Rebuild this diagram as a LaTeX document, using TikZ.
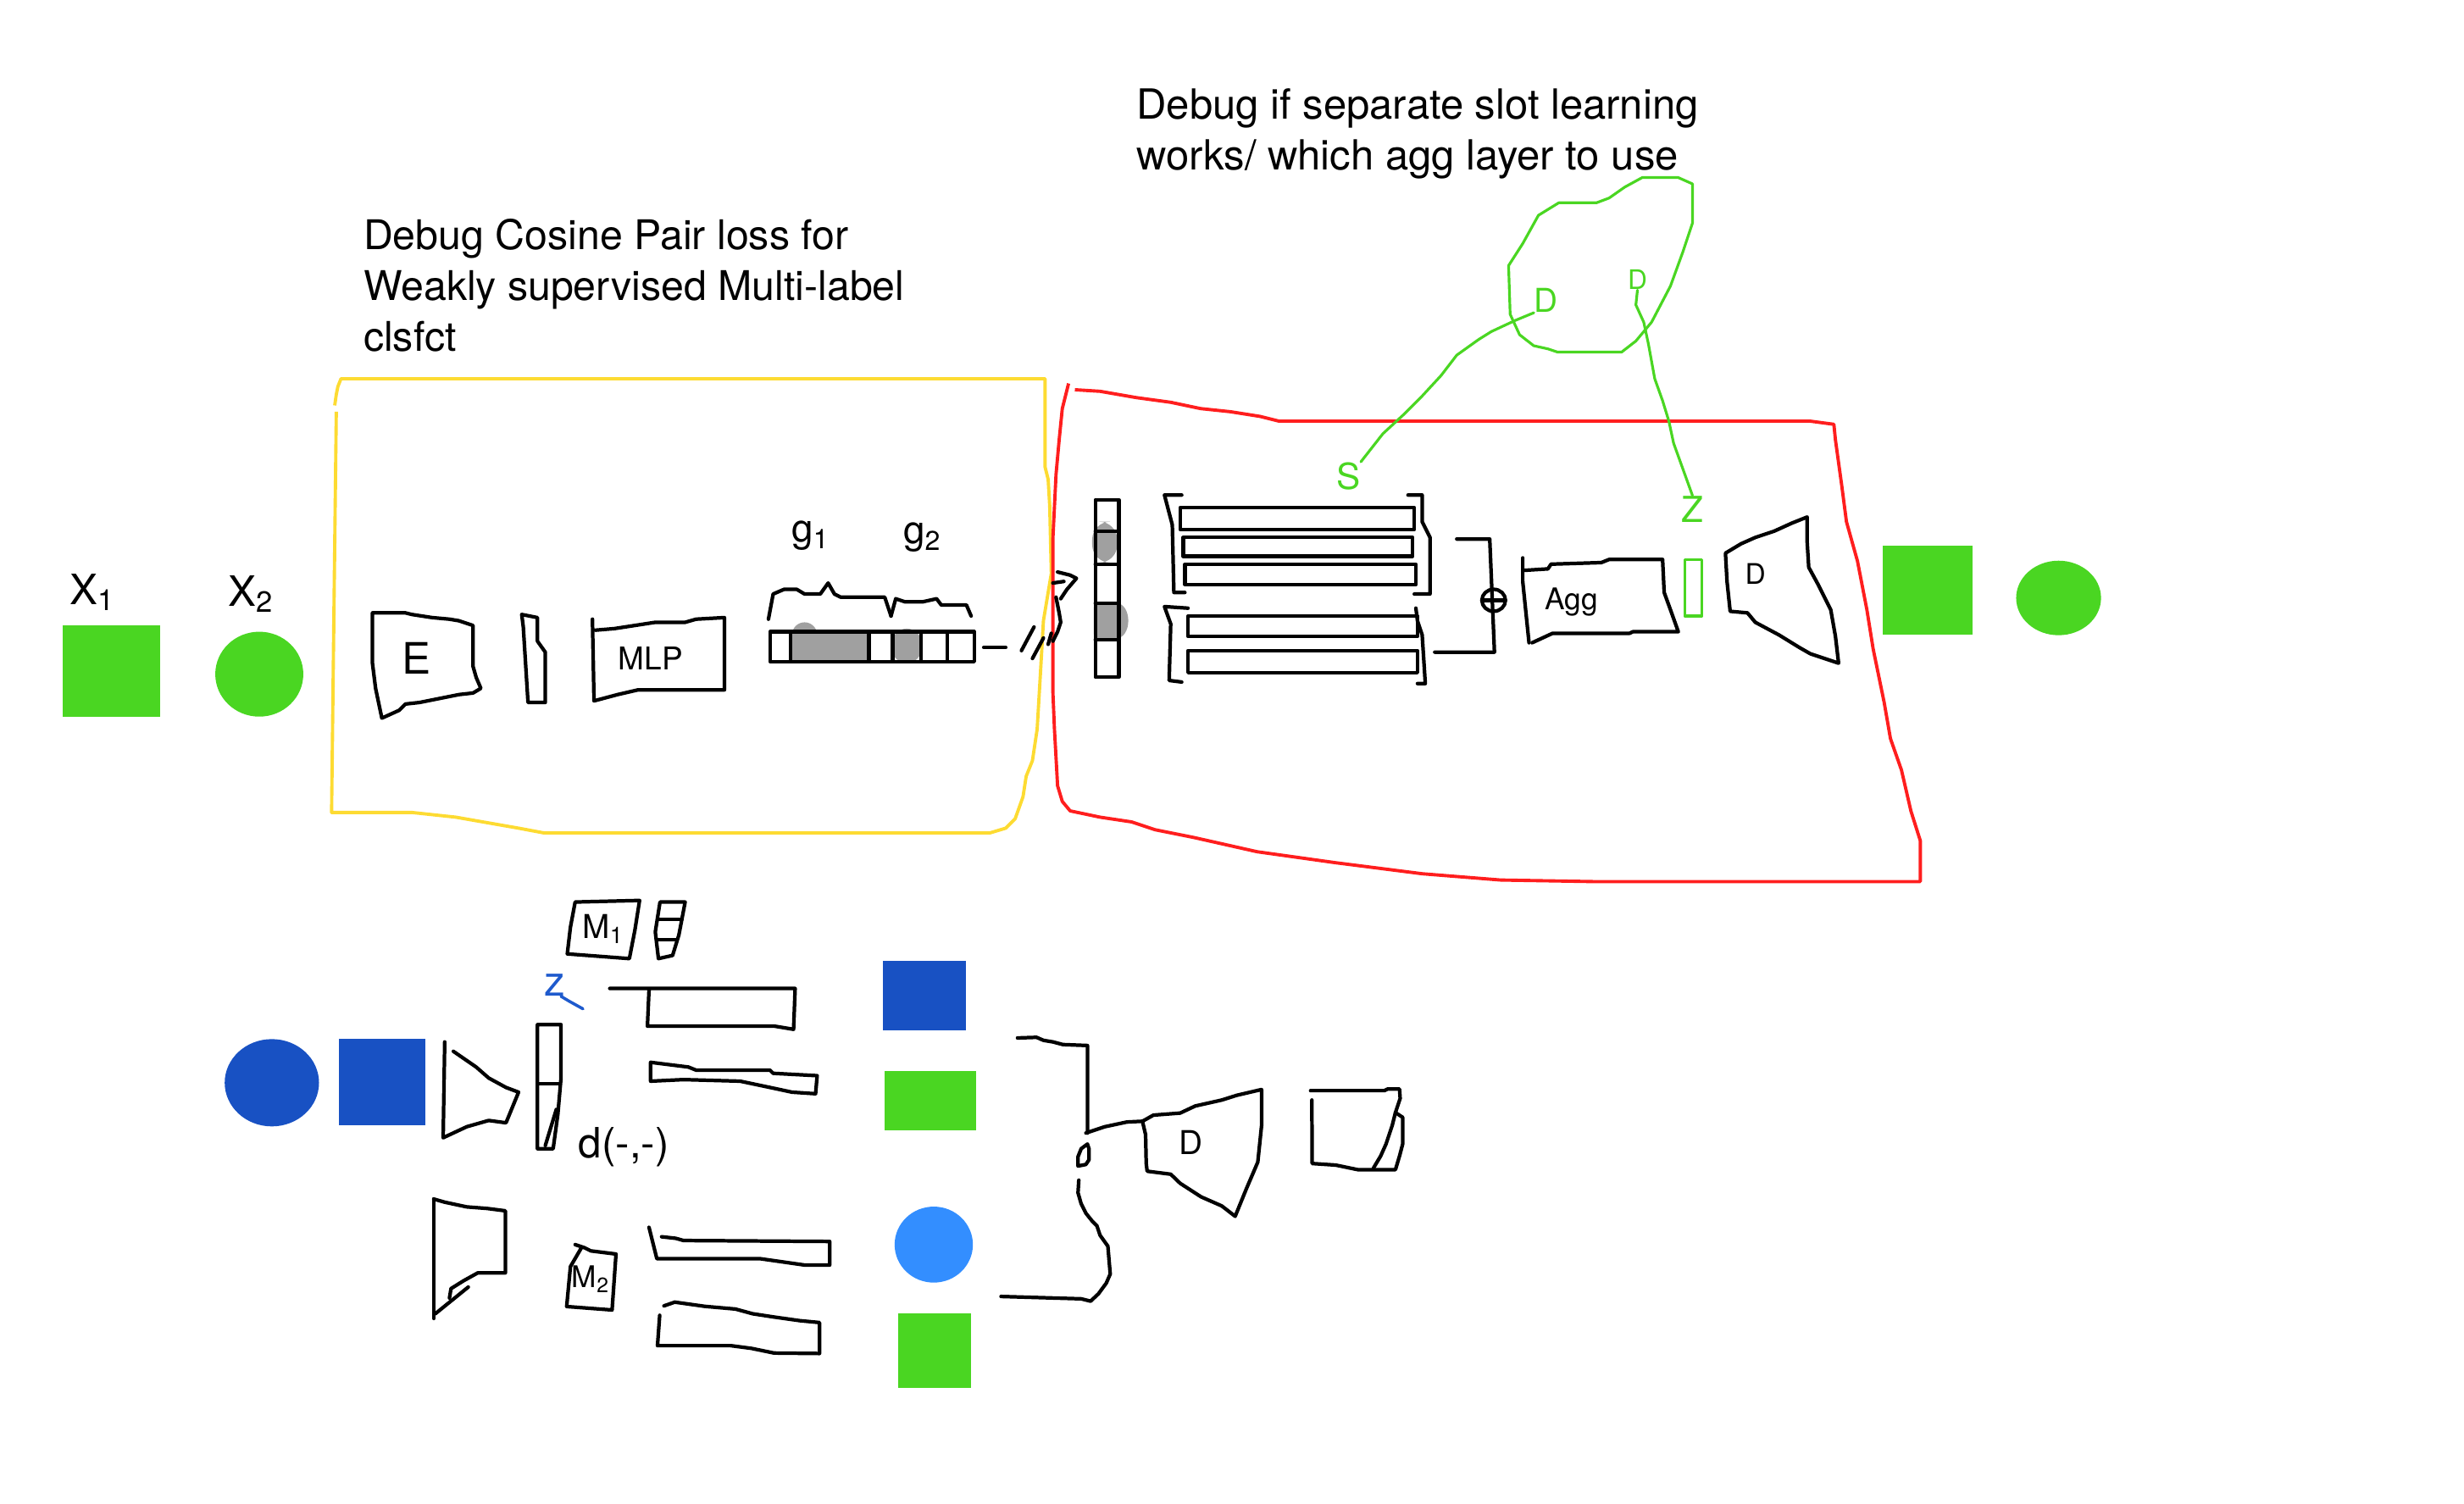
\documentclass[tikz,border=0pt]{standalone}
\usepackage{fontspec}
\setmainfont{TeX Gyre Heros}
\usetikzlibrary{calc,positioning,shapes.geometric}
\definecolor{sketchgreen}{RGB}{74,214,34}
\definecolor{sketchyellow}{RGB}{253,219,50}
\definecolor{sketchred}{RGB}{255,30,30}
\definecolor{sketchblue}{RGB}{24,81,195}
\definecolor{sketchsky}{RGB}{51,142,255}
\definecolor{sketchgray}{RGB}{160,160,160}
\definecolor{zblue}{RGB}{30,90,205}

\begin{document}
\begin{tikzpicture}[x=0.0185cm, y=-0.0185cm,
    pen/.style={black, line width=1.2pt, line join=round, line cap=round},
    greenpen/.style={sketchgreen, line width=0.9pt, line join=round, line cap=round},
    blob/.style={inner sep=0pt, outer sep=0pt},
    hand/.style={inner sep=0pt, font=\fontsize{#1}{#1}\selectfont}
]
\useasboundingbox (0,0) rectangle (1568,957);

                    % Notes
                    \node[anchor=north west, align=left, inner sep=0pt, font=\fontsize{13.7}{17}\selectfont] (noteA) at (231,139) {Debug Cosine Pair loss for\\Weakly supervised Multi-label\\clsfct};
                    \node[anchor=north west, align=left, inner sep=0pt, font=\fontsize{13.9}{17}\selectfont] (noteB) at (723,56) {Debug if separate slot learning\\works/ which agg layer to use};

                    % Inputs
                    \node[hand=14] (xonelbl) at (59,377) {X\textsubscript{1}};
                    \node[hand=14] (xtwolbl) at (160,378) {X\textsubscript{2}};
                    \node[blob, fill=sketchgreen, minimum width=1.147cm, minimum height=1.073cm] (xone) at (71,427) {};
                    \node[blob, ellipse, fill=sketchgreen, minimum width=1.036cm, minimum height=0.999cm] (xtwo) at (165,429) {};

                    % Yellow frame
                    \draw[sketchyellow, line width=1.1pt, line join=round] (214,262) -- (211,517) -- (262,517) -- (290,520) -- (330,527) -- (346,530) -- (630,530) -- (640,527) -- (646,521) -- (651,507) -- (653,494) -- (657,484) -- (660,464) -- (662,430) -- (664,395) -- (669,365) -- (668,322) -- (667,305) -- (665,297) -- (665,241) -- (217,241) -- (215,246) -- (214,251) -- (213,258);

                    % Red frame
                    \draw[sketchred, line width=1.1pt, line join=round] (680,244) -- (676,260) -- (674,280) -- (672,302) -- (670,343) -- (670,440) -- (671,464) -- (673,500) -- (676,510) -- (681,516) -- (700,520) -- (720,523) -- (735,528) -- (760,533) -- (800,542) -- (850,549) -- (905,556) -- (955,560) -- (1014,561) -- (1222,561) -- (1222,535) -- (1216,516) -- (1210,490) -- (1203,470) -- (1199,447) -- (1192,413) -- (1188,388) -- (1182,357) -- (1175,332) -- (1172,309) -- (1168,280) -- (1167,270) -- (1152,268) -- (814,268) -- (802,265) -- (783,262) -- (764,260) -- (745,256) -- (723,253) -- (700,249) -- (684,248);

                    % Encoder E
                    \draw[pen] (237,390) -- (258,390) -- (262,391) -- (275,393) -- (286,394) -- (292,395) -- (301,398) -- (301,424) -- (303,431) -- (306,438) -- (301,441) -- (292,442) -- (267,447) -- (258,448) -- (254,452) -- (243,457) -- (239,438) -- (237,422) -- cycle;
                    \node[hand=14.5] (enc) at (265,419) {E};
                    % Feature
                    \draw[pen] (332,391) -- (342,393) -- (342,408) -- (347,415) -- (347,447) -- (336,447) -- (335,431) -- (333,399) -- cycle;
                    % MLP
                    \draw[pen] (377,394) -- (378,446) -- (393,442) -- (406,439) -- (461,439) -- (461,393) -- (443,394) -- (436,396) -- (417,396) -- (404,398) -- (391,400) -- (379,401);
                    \node[hand=10.5] (mlp) at (414,419) {MLP};

                    % Code g1 g2
                    \fill[sketchgray] (503,402) rectangle (553,421);
                    \fill[sketchgray] (512,404) ellipse (8 and 8);
                    \fill[sketchgray] (577,411) ellipse (10 and 11);
                    \draw[pen] (490,402) rectangle (620,421);
                    \foreach \xd in {503,553,568,586,603}
                        \draw[pen] (\xd,402) -- (\xd,421);
                    \draw[pen] (489,394) -- (492,378) -- (499,375) -- (507,375) -- (512,378) -- (522,378) -- (527,371) -- (531,378) -- (535,380) -- (563,380) -- (567,392);
                    \draw[pen] (567,392) -- (570,381) -- (576,383) -- (587,383) -- (596,381) -- (599,385) -- (615,385) -- (618,392);
                    \node[hand=13] (gone) at (516,341) {g\textsubscript{1}};
                    \node[hand=13] (gtwo) at (587,342) {g\textsubscript{2}};
                    \draw[pen] (626,412) -- (640,412);
                    \draw[pen] (650,414) -- (658,399);
                    \draw[pen] (657,419) -- (664,406);
                    \draw[pen] (667,410) -- (669,403);
                    \draw[pen] (673,364) -- (681,366) -- (685,368) -- (679,375) -- (675,381);
                    \draw[pen] (670,371) -- (677,370);
                    \draw[pen] (672,380) -- (674,390) -- (675,396) -- (673,402) -- (670,408);

                    % Slot column
                    \fill[sketchgray, rounded corners=6pt] (695,332) rectangle (711,358);
                    \fill[sketchgray, rounded corners=2pt] (696,383) rectangle (711,407);
                    \fill[sketchgray] (711,395) ellipse (7 and 11);
                    \draw[pen] (697,318) rectangle (712,431);
                    \foreach \yd in {338,359,384,407}
                        \draw[pen] (697,\yd) -- (712,\yd);

                    % Slots
                    \draw[pen] (752,315) -- (741,315) -- (746,334) -- (747,377) -- (754,377);
                    \draw[pen] (896,315) -- (905,315) -- (905,332) -- (910,342) -- (910,378) -- (900,378);
                    \draw[pen] (751,323) rectangle (900,337);
                    \draw[pen] (753,342) rectangle (899,354);
                    \draw[pen] (754,359) rectangle (901,372);
                    \draw[pen] (756,387) -- (741,386) -- (745,397) -- (744,433) -- (752,434);
                    \draw[pen] (901,387) -- (902,395) -- (905,404) -- (907,435) -- (902,435);
                    \draw[pen] (756,392) rectangle (902,405);
                    \draw[pen] (756,414) rectangle (902,428);
                    \draw[pen] (927,343) -- (948,343) -- (951,415) -- (913,415);
                    \draw[pen] (950.5,382) ellipse (7.5 and 7);
                    \draw[pen] (943,382) -- (958,382);

                    % Aggregation
                    \draw[pen] (969,355) -- (969,370) -- (973,409);
                    \draw[pen] (969,363) -- (985,362) -- (987,359) -- (1019,358) -- (1024,356) -- (1058,356) -- (1059,377) -- (1063,388) -- (1068,402) -- (1039,402) -- (1037,403) -- (988,403) -- (975,409);
                    \node[hand=10, anchor=base west] (agg) at (983,388) {Agg};
                    \draw[greenpen] (1072,356) rectangle (1083,392);

                    % Decoder D
                    \draw[pen] (1150,329) -- (1140,333) -- (1129,338) -- (1117,342) -- (1108,346) -- (1098,352) -- (1099,370) -- (1101,389) -- (1112,390) -- (1117,396) -- (1132,404) -- (1145,412) -- (1152,416) -- (1170,422) -- (1168,405) -- (1165,388) -- (1157,372) -- (1151,361) -- (1150,345) -- cycle;
                    \node[hand=9.5] (dec) at (1117,365) {D};

                    % Outputs
                    \node[blob, fill=sketchgreen, minimum width=1.055cm, minimum height=1.055cm] (outone) at (1226.5,375.5) {};
                    \node[blob, ellipse, fill=sketchgreen, minimum width=0.999cm, minimum height=0.877cm] (outtwo) at (1310,380.5) {};

                    % Green notes
                    \draw[greenpen] (1045,113) -- (1068,113) -- (1077,117) -- (1077,142) -- (1071,160) -- (1063,182) -- (1051,205) -- (1041,217) -- (1032,224) -- (991,224) -- (985,222) -- (976,220) -- (967,213) -- (961,200) -- (960,169) -- (969,155) -- (979,137) -- (992,129) -- (1016,129) -- (1024,126) -- (1034,119) -- cycle;
                    \node[hand=11, text=sketchgreen] (dleft) at (984,191) {D};
                    \node[hand=9, text=sketchgreen] (dright) at (1042,178) {D};
                    \node[hand=12, text=sketchgreen] (slot) at (858,303) {S};
                    \node[hand=12, text=sketchgreen] (zed) at (1077,324) {Z};
                    \draw[greenpen] (dleft.south west) -- (964,204) -- (949,211) -- (941,216) -- (927,226) -- (917,239) -- (905,252) -- (893,264) -- (880,276) -- (slot.north east);
                    \draw[greenpen] (dright.south) -- (1041,194) -- (1046,205) -- (1049,219) -- (1053,241) -- (1058,255) -- (1062,268) -- (1065,282) -- (zed.north);

                    % Second setup
                    \node[blob, ellipse, fill=sketchblue, minimum width=1.11cm, minimum height=1.027cm] (bcirc) at (173,689) {};
                    \node[blob, fill=sketchblue, minimum width=1.017cm, minimum height=1.017cm] (bsq) at (243,688.5) {};
                    \draw[pen] (283,663) -- (282,724) -- (297,717) -- (311,713) -- (322,714.5) -- (330,695) -- (322,692) -- (311,686) -- (303,679) -- (288.5,669);
                    \draw[pen] (342,652) -- (357,652) -- (357,686) -- (355,709) -- (352,731) -- (342,731) -- cycle;
                    \draw[pen] (342,689.5) -- (356,689.5);
                    \draw[pen] (354,706) -- (347,729);
                    \node[hand=14, text=zblue] (zb) at (353,627) {z};
                    \draw[zblue, line width=1pt, line cap=round] (357,634) -- (362,637) -- (371,642);

                    % M1
                    \draw[pen] (366,574) -- (407,573) -- (404,592) -- (400.5,610) -- (361,607) -- (363,590) -- cycle;
                    \node[hand=11] (mone) at (384,591) {M\textsubscript{1}};
                    \draw[pen] (420,574) -- (436,574) -- (432,595) -- (428,608) -- (419,610) -- (417,593) -- cycle;
                    \draw[pen] (419,585) -- (434,585);
                    \draw[pen] (418,598) -- (430,598);
                    \draw[pen] (388,629) -- (506,629) -- (505,655) -- (493,653) -- (412,653) -- (413,630);
                    \draw[pen] (414,676) -- (438,679) -- (443,681) -- (490,681) -- (492,683) -- (520,684.5) -- (519,696) -- (504,695) -- (490,692) -- (471,688) -- (435,687) -- (414,688) -- cycle;
                    \node[hand=14] (dist) at (397,730) {d(-,-)};

                    % M2
                    \draw[pen] (276,763) -- (276,839);
                    \draw[pen] (276,763) -- (283,765) -- (297,768) -- (310,769) -- (321.6,770.5) -- (321.6,810) -- (304,810) -- (295,815) -- (287,820) -- (286,826);
                    \draw[pen] (298,819) -- (277,836);
                    \draw[pen] (366,792) -- (372,794) -- (376,796) -- (392,798) -- (389.5,833.6) -- (360.6,831.4) -- (363,806) -- (370,794);
                    \node[hand=10] (mtwo) at (376,814) {M\textsubscript{2}};
                    \draw[pen] (421,787) -- (430,788) -- (435,789.4) -- (528,790) -- (528,805) -- (512,805) -- (484,801) -- (418,801) -- (413,781);
                    \draw[pen] (422.5,831) -- (429.4,828.6) -- (448.6,831.3) -- (468,833) -- (479,836) -- (492,838) -- (509,840.4) -- (521.5,841.6) -- (521.5,861.3) -- (492.6,861) -- (478,858) -- (465,856.3) -- (418.4,856.3) -- (419.8,837);

                    % Targets
                    \node[blob, fill=sketchblue, minimum width=0.98cm, minimum height=0.818cm] (tsq) at (588.3,633.6) {};
                    \node[blob, fill=sketchgreen, minimum width=1.073cm, minimum height=0.696cm] (trect) at (592,700.5) {};
                    \node[blob, ellipse, fill=sketchsky, minimum width=0.921cm, minimum height=0.894cm] (tcirc) at (594.2,792) {};
                    \node[blob, fill=sketchgreen, minimum width=0.86cm, minimum height=0.873cm] (tsqtwo) at (594.7,859.4) {};

                    % Merge and decode
                    \draw[pen] (647.5,660.5) -- (659.6,660.1) -- (664,662) -- (670,663) -- (676.4,664.7) -- (692,665.3) -- (692,721);
                    \draw[pen] (691,721) -- (703,717) -- (717,714) -- (727,713.5);
                    \draw[pen] (692,728) -- (688,731) -- (686,736) -- (686,742) -- (691,741) -- (693,738) -- (693,731) -- cycle;
                    \draw[pen] (686.5,751) -- (686,759) -- (688,766) -- (691,772) -- (695,777) -- (698,780) -- (700,786) -- (705,793) -- (706.5,810.7) -- (704,816.5) -- (699,823.3) -- (694,828) -- (688,826.5) -- (637,825);
                    \draw[pen] (727,713.5) -- (734,709.6) -- (751,708.3) -- (760.6,703.8) -- (777.5,700) -- (787,697) -- (802.8,693.3) -- (802.8,716.4) -- (800.4,739.5) -- (793,756.8) -- (786,774) -- (777.5,767.4) -- (764.3,761.6) -- (751,753) -- (745,747.2) -- (730,745.3) -- (729.4,740.4) -- (729,722) -- cycle;
                    \node[hand=11] (decb) at (758,727) {D};
                    \draw[pen] (834,694) -- (881,694) -- (883,693) -- (890.6,693) -- (891,699) -- (888,708) -- (886,716) -- (882,728) -- (878.6,735.6) -- (874,743.3);
                    \draw[pen] (888,708) -- (892.6,711) -- (892.6,728) -- (890.6,735.6) -- (888,744.3) -- (864,744.3) -- (850,741.4) -- (835,740.4) -- (834.8,700);
                \end{tikzpicture}
\end{document}
